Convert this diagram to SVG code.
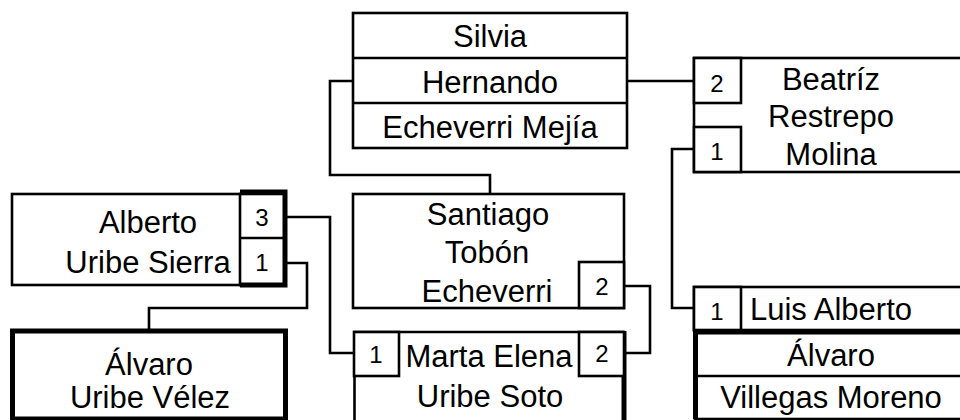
<svg xmlns="http://www.w3.org/2000/svg" width="960" height="420" viewBox="0 0 960 420">
<style>
.box{fill:#fff;stroke:#000;stroke-width:2.6}
.thick{fill:none;stroke:#000;stroke-width:5}
.ln{fill:none;stroke:#000;stroke-width:2.6}
.conn path{fill:none;stroke:#000;stroke-width:2.6}
text{font-family:"Liberation Sans",Arial,sans-serif;font-size:31px;fill:#000;text-anchor:middle}
text.n{font-size:24px}
</style>
<rect width="960" height="420" fill="#fff"/>
<g id="connectors" class="conn">
<path d="M353,81 H330 V175 H490 V194"/>
<path d="M627,81 H694"/>
<path d="M694,149 H672 V308 H694"/>
<path d="M285,217 H330 V353 H353"/>
<path d="M285,263 H307 V308 H149 V331"/>
<path d="M624,286 H650 V353 H625"/>
</g>
<g id="silvia">
<rect class="box" x="353" y="13" width="274" height="135"/>
<path class="ln" d="M353,58 H627 M353,103 H627"/>
<text x="490" y="47">Silvia</text>
<text x="490" y="93">Hernando</text>
<text x="490" y="138">Echeverri Mejía</text>
</g>
<g id="alberto">
<rect class="box" x="12" y="194" width="273" height="91"/>
<rect class="box" x="240" y="194" width="45" height="91"/>
<path class="ln" d="M240,238 H285"/>
<path class="thick" d="M240,192 H285 V285 H240"/>
<text x="148" y="233">Alberto</text>
<text x="148" y="273">Uribe Sierra</text>
<text class="n" x="262" y="226">3</text>
<text class="n" x="262" y="271">1</text>
</g>
<g id="alvaro-uribe">
<rect class="thick" x="12.5" y="331" width="273" height="88"/>
<text x="149" y="375">Álvaro</text>
<text x="150" y="408">Uribe Vélez</text>
</g>
<g id="santiago">
<rect class="box" x="353" y="194" width="271" height="114"/>
<rect class="box" x="579" y="262" width="45" height="46"/>
<text x="488" y="225">Santiago</text>
<text x="487" y="263">Tobón</text>
<text x="487" y="302">Echeverri</text>
<text class="n" x="602" y="295">2</text>
</g>
<g id="marta">
<path class="ln" d="M354.5,440 V332 H624"/>
<path class="thick" d="M624,331 V440"/>
<rect class="box" x="354" y="332" width="45" height="44"/>
<rect class="box" x="579" y="332" width="45" height="44"/>
<text x="489" y="367">Marta Elena</text>
<text x="490" y="407">Uribe Soto</text>
<text class="n" x="376" y="363">1</text>
<text class="n" x="602" y="362">2</text>
</g>
<g id="beatriz">
<rect class="box" x="694" y="58" width="280" height="114"/>
<rect class="box" x="694" y="58" width="47" height="45"/>
<rect class="box" x="694" y="127" width="47" height="45"/>
<text x="831" y="90">Beatríz</text>
<text x="831" y="127">Restrepo</text>
<text x="831" y="165">Molina</text>
<text class="n" x="717" y="92">2</text>
<text class="n" x="717" y="160">1</text>
</g>
<g id="luis-alberto">
<rect class="box" x="694" y="287" width="280" height="43"/>
<rect class="box" x="694" y="287" width="47" height="43"/>
<text x="831" y="320">Luis Alberto</text>
<text class="n" x="717" y="320">1</text>
</g>
<g id="alvaro-villegas">
<rect class="box" x="695" y="332" width="280" height="87"/>
<path class="ln" d="M695,376 H975"/>
<path class="thick" d="M975,332 H695.5 V419"/>
<text x="831" y="366">Álvaro</text>
<text x="831" y="408">Villegas Moreno</text>
</g>
</svg>
